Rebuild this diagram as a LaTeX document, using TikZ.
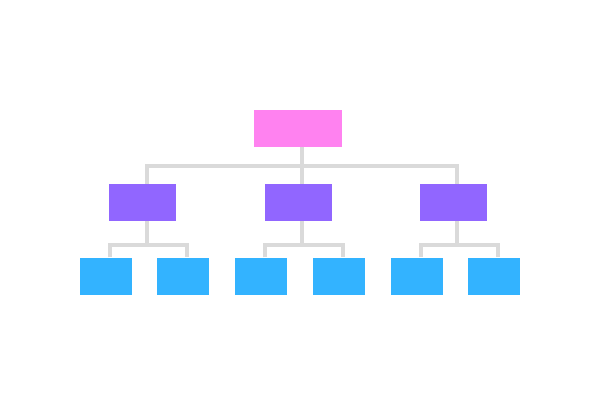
\documentclass[tikz,border=0pt]{standalone}
\definecolor{bosspink}{RGB}{255,130,240}
\definecolor{midpurple}{RGB}{145,102,255}
\definecolor{leafblue}{RGB}{51,179,255}
\definecolor{linkgray}{RGB}{218,218,218}
\tikzset{
  boss/.style={fill=bosspink,minimum width=88pt,minimum height=37pt,inner sep=0pt},
  mid/.style={fill=midpurple,minimum width=67pt,minimum height=37pt,inner sep=0pt},
  leaf/.style={fill=leafblue,minimum width=52pt,minimum height=37pt,inner sep=0pt},
  link/.style={draw=linkgray,line width=4pt}
}
\begin{document}
\begin{tikzpicture}[x=1pt,y=-1pt]
\fill[white] (0,0) rectangle (601,404);
\useasboundingbox (0,0) rectangle (601,404);
\node[boss] (top) at (298,128.3) {};
\node[mid] (m1) at (142.6,202.3) {};
\node[mid] (m2) at (298,202.3) {};
\node[mid] (m3) at (453.4,202.3) {};
\node[leaf] (l1) at (106,276) {};
\node[leaf] (l2) at (183.3,276) {};
\node[leaf] (l3) at (261,276) {};
\node[leaf] (l4) at (338.8,276) {};
\node[leaf] (l5) at (416.5,276) {};
\node[leaf] (l6) at (494,276) {};
\coordinate (t0) at (302,166);
\coordinate (b1) at (146.6,244.5);
\coordinate (b2) at (302,244.5);
\coordinate (b3) at (457.4,244.5);
\draw[link] ([xshift=4pt]top.south) -- (t0);
\draw[link] ([xshift=4pt]m1.north) |- (t0) -| ([xshift=4pt]m3.north);
\draw[link] ([xshift=4pt]m2.north) -- (t0);
\draw[link] ([xshift=4pt]m1.south) -- (b1);
\draw[link] ([xshift=4pt]l1.north) |- (b1) -| ([xshift=4pt]l2.north);
\draw[link] ([xshift=4pt]m2.south) -- (b2);
\draw[link] ([xshift=4pt]l3.north) |- (b2) -| ([xshift=4pt]l4.north);
\draw[link] ([xshift=4pt]m3.south) -- (b3);
\draw[link] ([xshift=4pt]l5.north) |- (b3) -| ([xshift=4pt]l6.north);
\end{tikzpicture}
\end{document}
